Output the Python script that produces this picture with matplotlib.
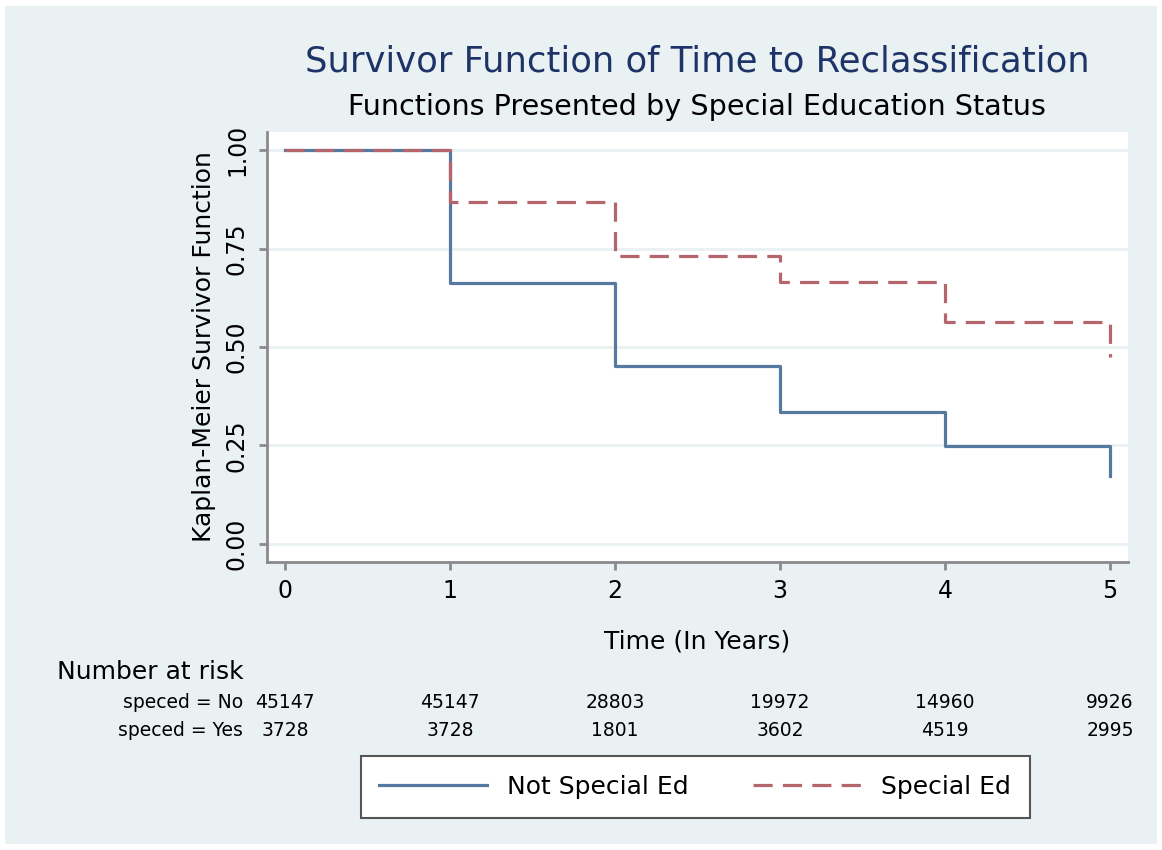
import matplotlib
matplotlib.use('Agg')
import matplotlib.pyplot as plt
from matplotlib.patches import Rectangle
from matplotlib.lines import Line2D
from matplotlib.transforms import blended_transform_factory

plt.rcParams['font.family'] = ['DejaVu Sans']

# dane
lata = [0, 1, 2, 3, 4, 5]
surv_no = [1.0, 0.662, 0.452, 0.335, 0.249, 0.172]
surv_yes = [1.0, 0.869, 0.731, 0.665, 0.564, 0.475]
risk_no = [45147, 45147, 28803, 19972, 14960, 9926]
risk_yes = [3728, 3728, 1801, 3602, 4519, 2995]
yticks = [0.0, 0.25, 0.5, 0.75, 1.0]

bg = '#eaf1f3'
szary = '#8a8a8a'
niebieski = '#56799f'
czerwony = '#b5656c'

fig = plt.figure(figsize=(11.62, 8.5), dpi=100, facecolor='white')
fig.patches.append(Rectangle((5/1162, 6/850), 1152/1162, 838/850,
                             transform=fig.transFigure, facecolor=bg,
                             edgecolor='none', zorder=-10))

ax = fig.add_axes([267/1162, 1 - 562/850, 861/1162, 430/850])
ax.set_facecolor('white')

# linie siatki
for y in yticks:
    ax.axhline(y, color=bg, lw=2, zorder=0)

ax.step(lata, surv_no, where='post', color=niebieski, lw=2.3, zorder=3)
ax.step(lata, surv_yes, where='post', color=czerwony, lw=2.3,
        dashes=(6, 3.2), zorder=4)

ax.set_xlim(-0.109, 5.109)
ax.set_ylim(-0.046, 1.046)
ax.set_xticks(lata)
ax.set_yticks(yticks)
ax.set_yticklabels(['%.2f' % v for v in yticks], rotation=90, va='center')
ax.tick_params(axis='both', colors=szary, labelcolor='black', labelsize=17,
               length=6, width=2)
ax.tick_params(axis='y', pad=7)
ax.tick_params(axis='x', pad=6)
for s in ['top', 'right']:
    ax.spines[s].set_visible(False)
for s in ['left', 'bottom']:
    ax.spines[s].set_color(szary)
    ax.spines[s].set_linewidth(2)

ax.set_ylabel('Kaplan-Meier Survivor Function', fontsize=18)
ax.yaxis.set_label_coords(-0.059, 0.5)
ax.set_xlabel('Time (In Years)', fontsize=18)
ax.xaxis.set_label_coords(0.499, -0.158)

fig.text(697/1162, 1 - 62/850, 'Survivor Function of Time to Reclassification',
         ha='center', va='center', fontsize=25.5, color='#1e3468')
fig.text(697/1162, 1 - 107/850, 'Functions Presented by Special Education Status',
         ha='center', va='center', fontsize=20.6, color='black')

# tabela "Number at risk"
tr = blended_transform_factory(ax.transData, fig.transFigure)
fig.text(57/1162, 1 - 672/850, 'Number at risk', ha='left', va='center', fontsize=18)
fig.text(243/1162, 1 - 703/850, 'speced = No', ha='right', va='center', fontsize=13.5)
fig.text(243/1162, 1 - 731/850, 'speced = Yes', ha='right', va='center', fontsize=13.5)
for x, a, b in zip(lata, risk_no, risk_yes):
    ax.text(x, 1 - 703/850, str(a), transform=tr, ha='center', va='center', fontsize=13.5)
    ax.text(x, 1 - 731/850, str(b), transform=tr, ha='center', va='center', fontsize=13.5)

uchwyty = [Line2D([], [], color=niebieski, lw=2.3),
           Line2D([], [], color=czerwony, lw=2.3, dashes=(6, 3.2))]
leg = fig.legend(uchwyty, ['Not Special Ed', 'Special Ed'], loc='center',
                 bbox_to_anchor=(695/1162, 1 - 787/850), ncol=2, fontsize=18,
                 frameon=True, fancybox=False, handlelength=4.3,
                 handletextpad=0.8, columnspacing=2.6, borderpad=0.75)
leg.get_frame().set_edgecolor('#555555')
leg.get_frame().set_linewidth(1.5)
leg.get_frame().set_facecolor('white')
leg.get_frame().set_alpha(1)

fig.savefig('out.png', dpi=100, facecolor='white')
